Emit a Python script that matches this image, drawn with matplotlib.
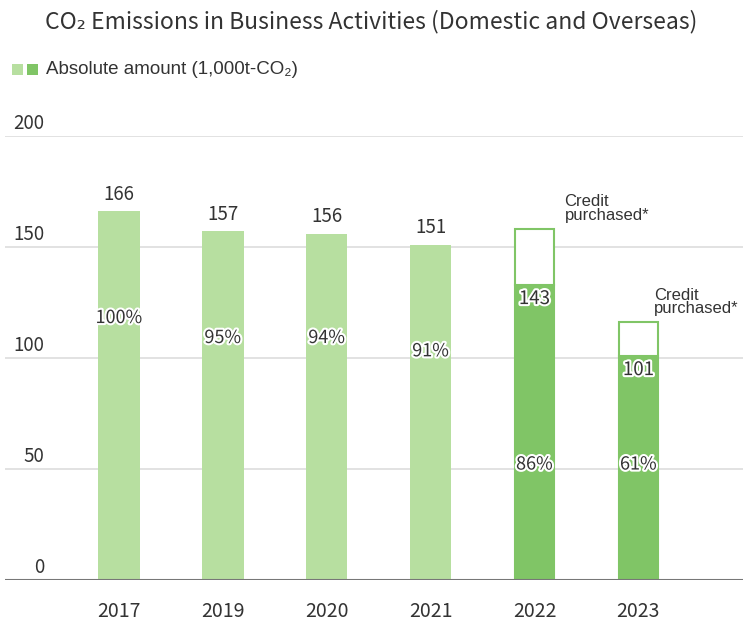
import matplotlib.pyplot as plt
import matplotlib.patheffects as pe
from matplotlib.patches import Rectangle

plt.rcParams['font.family'] = ['Noto Sans CJK JP', 'DejaVu Sans']

# Data
years = ['2017', '2019', '2020', '2021', '2022', '2023']
bar_heights = [166, 157, 156, 151, 133, 101]        # drawn height of the filled bar
value_labels = ['166', '157', '156', '151', '143', '101']
pct_labels = ['100%', '95%', '94%', '91%', '86%', '61%']
pct_label_y = [118, 109, 109, 103, 52, 52]
credit_totals = [None, None, None, None, 158, 116]  # top of the "credit purchased" outline
credit_label_dx = [0, 0, 0, 0, 0.29, 0.15]
yticks = [0, 50, 100, 150, 200]

light = '#b7dfa0'
dark = '#80c566'
colors = [light, light, light, light, dark, dark]
text_col = '#333333'
arial = ['Liberation Sans', 'DejaVu Sans']

fig = plt.figure(figsize=(7.43, 6.21), dpi=100)
ax = fig.add_axes([5 / 743, 41 / 621, 738 / 743, 444 / 621])

x = list(range(len(years)))
ax.bar(x, bar_heights, width=0.40, color=colors, zorder=2)

halo = [pe.withStroke(linewidth=3, foreground='white')]
for i in x:
    if credit_totals[i] is not None:
        ax.add_patch(Rectangle((i - 0.19, bar_heights[i]), 0.38, credit_totals[i] - bar_heights[i],
                               facecolor='white', edgecolor=dark, linewidth=1.5, zorder=2))
        ax.plot([i - 0.19, i - 0.19], [0, bar_heights[i]], color=dark, lw=1.5, zorder=2)
        ax.plot([i + 0.19, i + 0.19], [0, bar_heights[i]], color=dark, lw=1.5, zorder=2)
        ax.text(i, bar_heights[i] - 1.5, value_labels[i], ha='center', va='top',
                fontsize=13.5, color=text_col, path_effects=halo, zorder=4)
        ax.text(i + credit_label_dx[i], credit_totals[i] + 3, 'Credit\npurchased*',
                ha='left', va='bottom', fontsize=12, color=text_col, linespacing=0.85,
                family=arial, zorder=4)
    else:
        ax.text(i, bar_heights[i] + 3, value_labels[i], ha='center', va='bottom',
                fontsize=13.5, color=text_col, zorder=4)
    ax.text(i, pct_label_y[i], pct_labels[i], ha='center', va='center',
            fontsize=13, color=text_col, path_effects=halo, zorder=4)

# Gridlines with tick labels sitting above them at the left
for t in yticks:
    if t > 0:
        ax.axhline(t, color='#dddddd', lw=1.2, zorder=1)
    ax.text(-0.715, t + 1, str(t), ha='right', va='bottom', fontsize=13.5, color=text_col)
ax.axhline(0, color='#777777', lw=1.5, zorder=3)

ax.set_xlim(-1.096, 6.007)
ax.set_ylim(0, 200)
ax.set_xticks(x)
ax.set_xticklabels(years, fontsize=14, color=text_col)
ax.tick_params(axis='x', length=0, pad=15)
ax.set_yticks([])
for s in ax.spines.values():
    s.set_visible(False)

fig.text(0.5, 1 - 22 / 621, 'CO\u2082 Emissions in Business Activities (Domestic and Overseas)',
         ha='center', va='center', fontsize=16.5, color=text_col)

# Legend: two squares and label
fig.patches.append(Rectangle((12 / 743, 1 - 75 / 621), 11 / 743, 11 / 621,
                             transform=fig.transFigure, facecolor=light, edgecolor='none'))
fig.patches.append(Rectangle((27 / 743, 1 - 75 / 621), 11 / 743, 11 / 621,
                             transform=fig.transFigure, facecolor=dark, edgecolor='none'))
fig.text(46 / 743, 1 - 69 / 621, 'Absolute amount (1,000t-CO\u2082)', ha='left', va='center',
         fontsize=13.5, color=text_col, family=arial)

fig.savefig('out.png', dpi=100)
